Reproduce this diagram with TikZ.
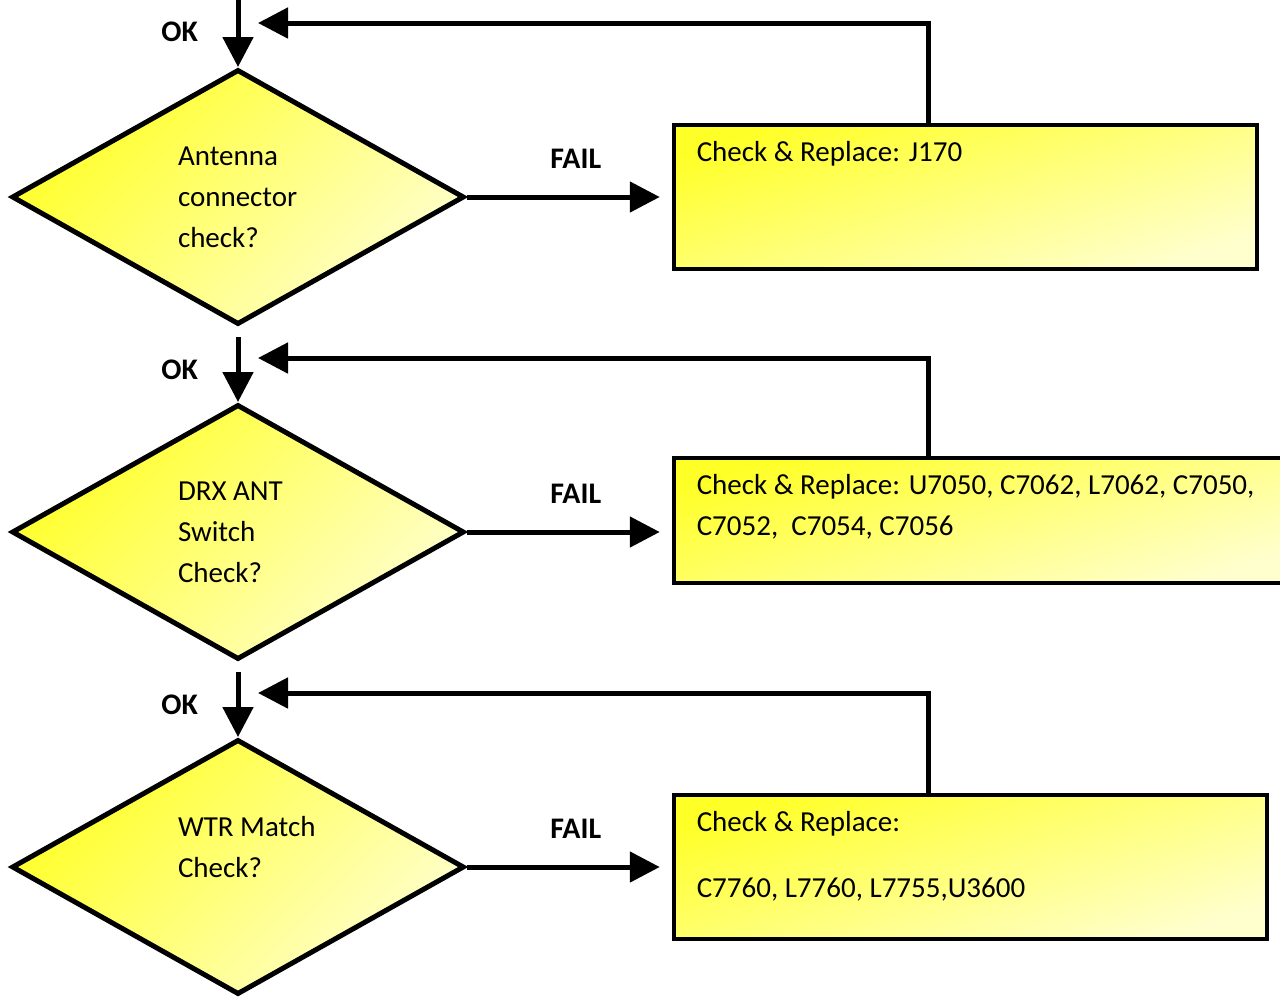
\documentclass[tikz,border=0pt]{standalone}
\usepackage{fontspec}
\setmainfont{Carlito}
\usepackage{tikz}
\usetikzlibrary{positioning, arrows.meta, shapes.geometric, calc}

\definecolor{hotyel}{RGB}{255,255,40}
\definecolor{paleyel}{RGB}{255,255,205}
\newcommand{\qline}[1]{\makebox[2.4cm][l]{#1}}

\begin{document}
\begin{tikzpicture}[
  font=\fontsize{16.5}{23.3}\selectfont,
  check/.style={diamond, draw, line width=0.1cm, minimum width=9.05cm,
    minimum height=5.1cm, inner sep=0pt, align=left,
    top color=hotyel, bottom color=paleyel, shading angle=45},
  fix/.style={draw, line width=0.08cm, align=left, inner xsep=0.46cm,
    inner ysep=0.33cm, top color=hotyel, bottom color=paleyel, shading angle=18},
  lbl/.style={font=\bfseries\fontsize{17}{17}\selectfont, inner sep=0pt},
  arrow/.style={-{Triangle[length=0.6cm, width=0.6cm]}, line width=0.1cm},
]
  \useasboundingbox (0,0) rectangle (25.6,-19.96);

  \node[check] (q1) at (4.76,-3.94) {\qline{Antenna}\\connector\\check?};
  \node[check, below=1.5cm of q1] (q2) {\qline{DRX ANT}\\Switch\\Check?};
  \node[check, below=1.5cm of q2] (q3) {\qline{WTR Match}\\Check?\\~};

  \node[fix, right=4.1cm of q1] (b1)
    {\parbox[c][2.23cm][t]{10.75cm}{Check \& Replace: J170}};
  \node[fix, right=4.1cm of q2, yshift=0.23cm] (b2)
    {\parbox[c][1.83cm][t]{11.5cm}{Check \& Replace: U7050, C7062, L7062, C7050,\\
     C7052,\ \ C7054, C7056}};
  \node[fix, right=4.1cm of q3] (b3)
    {\parbox[c][2.23cm][t]{10.95cm}{Check \& Replace:\\[0.5cm]
     C7760, L7760, L7755,U3600}};

  % way in from above
  \coordinate (top1) at ($(q1.north)+(0,1.4)$);
  \coordinate (top2) at ($(q2.north)+(0,1.3)$);
  \coordinate (top3) at ($(q3.north)+(0,1.3)$);
  \draw[arrow] (top1) -- node[lbl, left=0.75cm] (ok1) {OK} (q1.north);
  \draw[arrow] (top2) -- node[lbl, left=0.75cm] (ok2) {OK} (q2.north);
  \draw[arrow] (top3) -- node[lbl, left=0.75cm] (ok3) {OK} (q3.north);

  % fail branches
  \draw[arrow, shorten >=0.24cm] (q1.east) -- node[lbl, above=0.52cm, xshift=0.13cm] (fail1) {FAIL} (q1.east -| b1.west);
  \draw[arrow, shorten >=0.24cm] (q2.east) -- node[lbl, above=0.52cm, xshift=0.13cm] (fail2) {FAIL} (q2.east -| b2.west);
  \draw[arrow, shorten >=0.24cm] (q3.east) -- node[lbl, above=0.52cm, xshift=0.13cm] (fail3) {FAIL} (q3.east -| b3.west);

  % back to the check after replacing
  \coordinate (back1) at ($(q1.north)+(0.4,0.88)$);
  \coordinate (back2) at ($(q2.north)+(0.4,0.88)$);
  \coordinate (back3) at ($(q3.north)+(0.4,0.88)$);
  \draw[arrow] ($(b1.north west)+(5.14,0)$) |- (back1);
  \draw[arrow] ($(b2.north west)+(5.14,0)$) |- (back2);
  \draw[arrow] ($(b3.north west)+(5.14,0)$) |- (back3);
\end{tikzpicture}
\end{document}
